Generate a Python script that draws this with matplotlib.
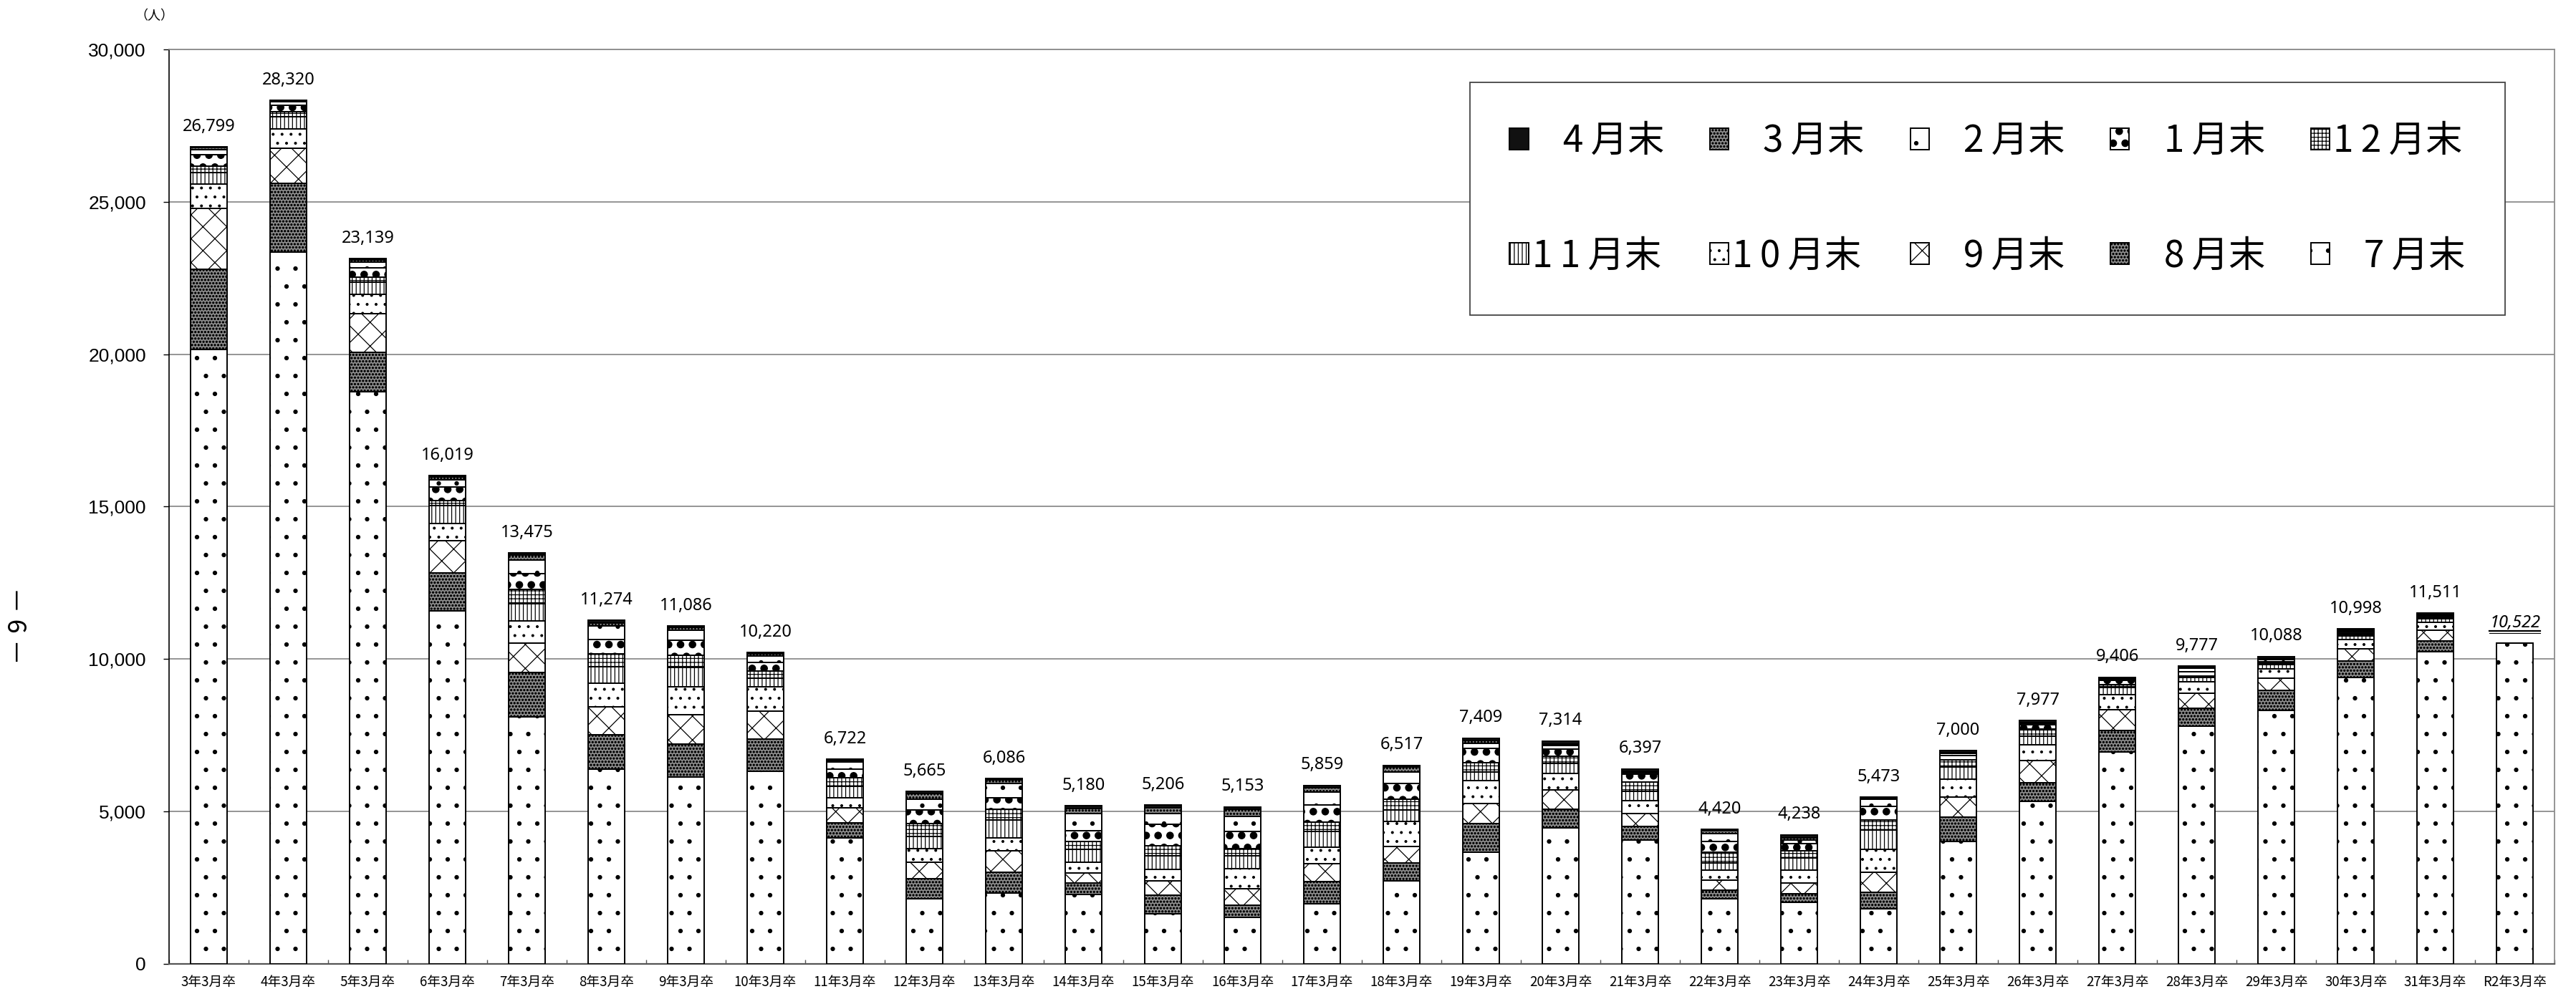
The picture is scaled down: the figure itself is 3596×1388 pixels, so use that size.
import matplotlib
matplotlib.use('Agg')
import matplotlib.pyplot as plt
import matplotlib.hatch as mhatch
from matplotlib.lines import Line2D
from matplotlib.transforms import IdentityTransform
import numpy as np

plt.rcParams['font.family'] = ['Noto Sans CJK JP', 'DejaVu Sans']
plt.rcParams['hatch.linewidth'] = 0.9

# dot hatch variants: number of '.' -> (rows per tile (even), dot size)
_dot_cfg = {1: (4, 0.10), 2: (8, 0.11), 3: (6, 0.28), 5: (22, 0.22)}


class PatternDots(mhatch.Circles):
    filled = True
    size = 0.1

    def __init__(self, hatch, density):
        n = hatch.count('.')
        rows, size = _dot_cfg.get(n, (n * density, 0.1))
        self.num_rows = rows
        self.size = size
        super().__init__(hatch, density)


mhatch._hatch_types = [PatternDots if t is mhatch.SmallFilledCircles else t
                       for t in mhatch._hatch_types]

categories = ['3年3月卒', '4年3月卒', '5年3月卒', '6年3月卒', '7年3月卒', '8年3月卒',
              '9年3月卒', '10年3月卒', '11年3月卒', '12年3月卒', '13年3月卒', '14年3月卒',
              '15年3月卒', '16年3月卒', '17年3月卒', '18年3月卒', '19年3月卒', '20年3月卒',
              '21年3月卒', '22年3月卒', '23年3月卒', '24年3月卒', '25年3月卒', '26年3月卒',
              '27年3月卒', '28年3月卒', '29年3月卒', '30年3月卒', '31年3月卒', 'R2年3月卒']

totals = [26799, 28320, 23139, 16019, 13475, 11274, 11086, 10220, 6722, 5665,
          6086, 5180, 5206, 5153, 5859, 6517, 7409, 7314, 6397, 4420,
          4238, 5473, 7000, 7977, 9406, 9777, 10088, 10998, 11511, 10522]

jul = [20150, 23360, 18780, 11570, 8110, 6400, 6120, 6314, 4140, 2144,
       2314, 2275, 1649, 1516, 1962, 2714, 3669, 4468, 4060, 2142,
       2025, 1813, 4021, 5329, 6942, 7808, 8317, 9389, 10235, 10522]
aug = [2640, 2250, 1277, 1254, 1446, 1105, 1094, 1072, 485, 642,
       689, 376, 595, 415, 728, 587, 940, 610, 447, 274,
       274, 540, 783, 611, 720, 587, 649, 548, 368, 0]
sep = [1998, 1137, 1264, 1060, 968, 934, 971, 916, 493, 547,
       705, 337, 470, 524, 587, 540, 642, 627, 430, 329,
       352, 650, 666, 720, 681, 485, 408, 392, 337, 0]
oct_ = [784, 650, 649, 569, 718, 775, 907, 790, 337, 454,
        431, 344, 391, 666, 549, 822, 767, 548, 415, 337,
        431, 744, 587, 532, 478, 376, 297, 313, 274, 0]
nov = [392, 392, 399, 570, 570, 535, 642, 290, 367, 391,
       587, 431, 446, 430, 524, 376, 274, 313, 314, 219,
       391, 642, 392, 274, 235, 133, 157, 125, 117, 0]
dec = [196, 172, 171, 170, 478, 433, 391, 219, 274, 431,
       352, 258, 314, 235, 298, 368, 313, 235, 289, 352,
       235, 337, 250, 235, 94, 63, 40, 40, 40, 0]
jan = [392, 212, 285, 456, 513, 455, 485, 289, 290, 430,
       368, 353, 704, 548, 563, 509, 470, 235, 259, 368,
       235, 431, 141, 141, 141, 141, 54, 50, 40, 0]
feb = [148, 100, 205, 228, 455, 456, 337, 212, 242, 352,
       470, 563, 368, 509, 415, 376, 157, 117, 60, 259,
       117, 235, 55, 45, 40, 110, 50, 50, 35, 0]
mar = [71, 30, 60, 91, 150, 91, 94, 62, 47, 196,
       118, 157, 180, 220, 157, 157, 101, 60, 50, 78,
       79, 30, 45, 40, 30, 25, 40, 40, 30, 0]
apr = [28, 17, 49, 51, 67, 90, 45, 56, 47, 78,
       52, 86, 89, 90, 76, 68, 76, 101, 73, 62,
       99, 51, 60, 50, 45, 49, 76, 51, 35, 0]

series_names = ['7月末', '8月末', '9月末', '10月末', '11月末',
                '12月末', '1月末', '2月末', '3月末', '4月末']
series_values = [jul, aug, sep, oct_, nov, dec, jan, feb, mar, apr]
series_style = [
    dict(facecolor='white', hatch='.'),
    dict(facecolor='#8e8e8e', hatch='.....'),
    dict(facecolor='white', hatch='x'),
    dict(facecolor='white', hatch='..'),
    dict(facecolor='white', hatch='|||'),
    dict(facecolor='white', hatch='+++'),
    dict(facecolor='white', hatch='...'),
    dict(facecolor='white', hatch='.'),
    dict(facecolor='#8e8e8e', hatch='.....'),
    dict(facecolor='#111111', hatch=None),
]

fig = plt.figure(figsize=(35.96, 13.88), dpi=100)
ax = fig.add_axes([0.0656, 0.0303, 0.9261, 0.9200])

x = np.arange(len(categories))
bottom = np.zeros(len(categories))
containers = {}
for name, vals, st in zip(series_names, series_values, series_style):
    vals = np.array(vals, dtype=float)
    bc = ax.bar(x, vals, width=0.46, bottom=bottom, edgecolor='black',
                linewidth=1.4, label=name, zorder=3, **st)
    containers[name] = bc
    bottom = bottom + vals

ax.set_xlim(-0.5, len(categories) - 0.5)
ax.set_ylim(0, 30000)
ax.set_yticks(np.arange(0, 30001, 5000))
ax.set_yticklabels([f'{v:,}' for v in range(0, 30001, 5000)],
                   family=['Liberation Sans Narrow', 'Liberation Sans'], fontsize=19)
ax.yaxis.grid(True, color='#8c8c8c', linewidth=1.3, zorder=0)
ax.set_axisbelow(True)
ax.tick_params(axis='y', direction='out', length=6, width=1.0, pad=17)

ax.set_xticks(x)
ax.set_xticklabels(categories, fontsize=13.5)
ax.tick_params(axis='x', length=0, pad=11)
ax.set_xticks(np.arange(-0.5, len(categories), 1.0), minor=True)
ax.tick_params(axis='x', which='minor', direction='in', length=4, width=1.0, color='#555555')

ax.spines['left'].set_color('black')
ax.spines['left'].set_linewidth(1.2)
ax.spines['bottom'].set_color('#555555')
ax.spines['bottom'].set_linewidth(1.6)
ax.spines['top'].set_color('#8c8c8c')
ax.spines['top'].set_linewidth(1.3)
ax.spines['right'].set_color('#8c8c8c')
ax.spines['right'].set_linewidth(1.3)

labels = []
for i, t in enumerate(totals):
    last = (i == len(totals) - 1)
    txt = ax.annotate(f'{t:,}', (x[i], t), xytext=(0, 16), textcoords='offset points',
                      ha='center', va='baseline', fontsize=17,
                      family=['Noto Sans', 'DejaVu Sans'],
                      fontweight='bold' if last else 'normal',
                      fontstyle='italic' if last else 'normal', zorder=5)
    labels.append(txt)

fig.text(0.0598, 0.984, '（人）', fontsize=13, ha='center', va='center')
fig.text(0.0078, 1 - 874 / 1388, '－ 9 －', fontsize=26, rotation=90,
         ha='center', va='center')


def legend_text(name):
    num, rest = name[:-2], name[-2:]
    body = '\u2009'.join(num) + '\u2009' + rest
    if len(num) == 1:
        body = '\u2007\u2009' + body
    return body


order = ['4月末', '11月末', '3月末', '10月末', '2月末', '9月末',
         '1月末', '8月末', '12月末', '7月末']
handles = [containers[n] for n in order]
leg_labels = [legend_text(n) for n in order]
leg = fig.legend(handles, leg_labels, ncol=5, loc='upper left',
                 bbox_to_anchor=(0.5706, 0.9171, 0.4019, 0.0),
                 mode='expand', fontsize=37, frameon=True, fancybox=False,
                 edgecolor='#444444', framealpha=1.0, borderpad=1.08,
                 labelspacing=2.08, handlelength=0.51, handleheight=0.53,
                 handletextpad=0.1, borderaxespad=0.0)
leg.get_frame().set_linewidth(1.3)

fig.canvas.draw()
bb = labels[-1].get_window_extent()
fig.add_artist(Line2D([bb.x0, bb.x1], [bb.y0 + 1, bb.y0 + 1], transform=IdentityTransform(),
                      color='black', linewidth=1.6))
fig.add_artist(Line2D([bb.x0, bb.x1], [bb.y0 - 2, bb.y0 - 2], transform=IdentityTransform(),
                      color='black', linewidth=0.8))

fig.savefig('out.png', dpi=100)
